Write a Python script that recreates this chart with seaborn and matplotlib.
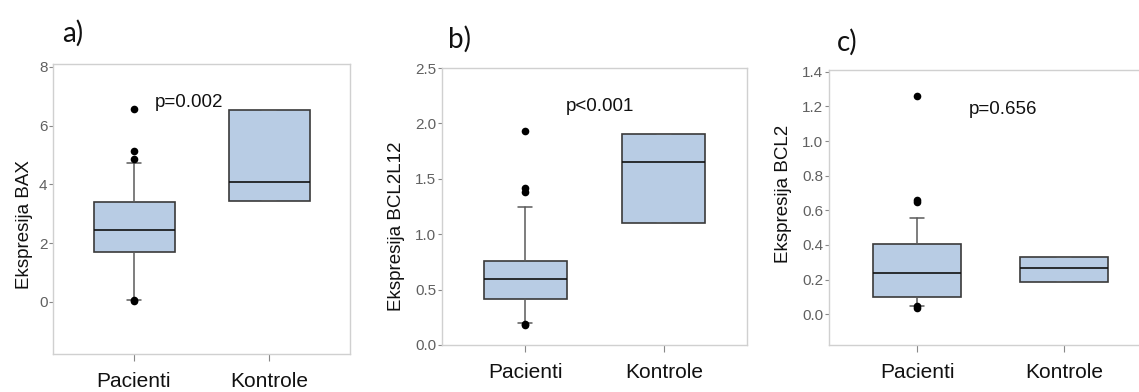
import matplotlib
matplotlib.use("Agg")
import matplotlib.pyplot as plt
import seaborn as sns
import pandas as pd

sns.set_theme(style="white")
plt.rcParams["font.family"] = ["Liberation Sans", "DejaVu Sans"]

groups = ["Pacienti", "Kontrole"]

# Summary statistics per gene: [Pacienti, Kontrole]
bax_q1 = [1.68, 3.42]
bax_med = [2.46, 4.08]
bax_q3 = [3.40, 6.52]
bax_lo = [0.06, 3.42]
bax_hi = [4.72, 6.52]
bax_out = [[6.55, 5.15, 4.88, 0.05, 0.03], []]

bcl2l12_q1 = [0.415, 1.10]
bcl2l12_med = [0.595, 1.65]
bcl2l12_q3 = [0.755, 1.905]
bcl2l12_lo = [0.20, 1.10]
bcl2l12_hi = [1.25, 1.905]
bcl2l12_out = [[1.93, 1.42, 1.38, 0.19, 0.18], []]

bcl2_q1 = [0.10, 0.183]
bcl2_med = [0.235, 0.264]
bcl2_q3 = [0.405, 0.333]
bcl2_lo = [0.05, 0.183]
bcl2_hi = [0.555, 0.333]
bcl2_out = [[1.26, 0.66, 0.645, 0.045, 0.035], []]

panel_letters = ["a)", "b)", "c)"]
y_labels = ["Ekspresija BAX", "Ekspresija BCL2L12", "Ekspresija BCL2"]
p_texts = ["p=0.002", "p<0.001", "p=0.656"]

panels = [
    (bax_q1, bax_med, bax_q3, bax_lo, bax_hi, bax_out),
    (bcl2l12_q1, bcl2l12_med, bcl2l12_q3, bcl2l12_lo, bcl2l12_hi, bcl2l12_out),
    (bcl2_q1, bcl2_med, bcl2_q3, bcl2_lo, bcl2_hi, bcl2_out),
]

W, H = 1139, 392
fig = plt.figure(figsize=(W / 100, H / 100), dpi=100)

# axes boxes in pixels: left, right, top, bottom
boxes_px = [(53, 350, 64, 354), (442, 747, 68, 345), (829, 1152, 70, 345)]
ylims = [(-1.78, 8.1), (0.0, 2.5), (-0.178, 1.41)]
yticks = [[0, 2, 4, 6, 8], [0.0, 0.5, 1.0, 1.5, 2.0, 2.5],
          [0.0, 0.2, 0.4, 0.6, 0.8, 1.0, 1.2, 1.4]]
yfmt = ["{:.0f}", "{:.1f}", "{:.1f}"]
ylabel_xy = [(-0.067, 0.448), (-0.121, 0.43), (-0.115, 0.55)]
p_xy = [(0.156, 6.79), (0.29, 2.15), (0.35, 1.18)]
title_px = [(62, 33), (448, 39), (837, 42)]

fill = "#b8cce4"
edge = "#3a3a3a"
grey = "#5a5a5a"

for i, (q1, med, q3, lo, hi, out) in enumerate(panels):
    l, r, t, b = boxes_px[i]
    ax = fig.add_axes([l / W, (H - b) / H, (r - l) / W, (b - t) / H])

    stats = []
    for j, g in enumerate(groups):
        stats.append(dict(label=g, med=med[j], q1=q1[j], q3=q3[j],
                          whislo=lo[j], whishi=hi[j], fliers=[]))
    ax.bxp(stats, positions=[0, 1], widths=0.6, patch_artist=True,
           showfliers=False, capwidths=0.1,
           boxprops=dict(facecolor=fill, edgecolor=edge, linewidth=1.2),
           medianprops=dict(color="#111111", linewidth=1.2),
           whiskerprops=dict(color=grey, linewidth=1.1),
           capprops=dict(color=grey, linewidth=1.1))

    # outlying observations
    pts = pd.DataFrame({
        "grupa": [g for j, g in enumerate(groups) for _ in out[j]],
        "vrednost": [v for j in range(len(groups)) for v in out[j]],
    })
    sns.stripplot(data=pts, x="grupa", y="vrednost", order=groups,
                  jitter=False, color="black", size=5.5, ax=ax, zorder=5)

    ax.set_xlim(-0.6, 1.6)
    ax.set_ylim(*ylims[i])
    ax.set_xticks([0, 1])
    ax.set_xticklabels(groups, fontsize=15, color="#111111")
    ax.set_yticks(yticks[i])
    ax.set_yticklabels([yfmt[i].format(v) for v in yticks[i]],
                       fontsize=11, color="#606060")
    ax.set_xlabel("")
    ax.set_ylabel(y_labels[i], fontsize=13.5, color="#111111")
    ax.yaxis.set_label_coords(*ylabel_xy[i])

    ax.tick_params(axis="y", which="both", left=True, length=3, width=0.8,
                   color="#888888", pad=1)
    ax.tick_params(axis="x", which="both", bottom=True, length=5, width=0.8,
                   color="#888888", pad=8)
    for s in ax.spines.values():
        s.set_visible(True)
        s.set_color("#d0d0d0")
        s.set_linewidth(1.0)

    ax.text(p_xy[i][0], p_xy[i][1], p_texts[i], fontsize=13.5,
            ha="left", va="center", color="#111111")

    fig.text(title_px[i][0] / W, 1 - title_px[i][1] / H, panel_letters[i],
             fontsize=20, family=["Lato", "DejaVu Sans"], ha="left",
             va="center", color="#111111")

fig.savefig("out.png", dpi=100)
